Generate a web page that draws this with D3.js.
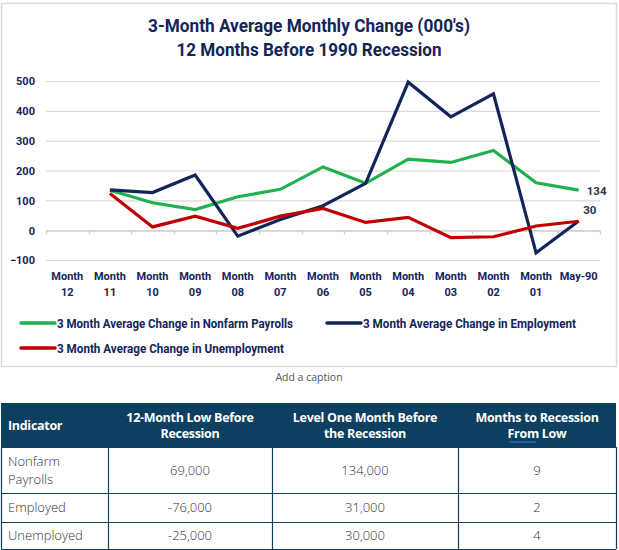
<!DOCTYPE html>
<html><head><meta charset="utf-8">
<script src="https://cdn.jsdelivr.net/npm/d3@7"></script>
<style>
html,body{margin:0;padding:0;background:#fff;}
svg{display:block;}
</style></head>
<body>
<svg id="c" width="619" height="550"></svg>
<script>
// ---- data ----
const categories = ["Month 12","Month 11","Month 10","Month 09","Month 08","Month 07","Month 06","Month 05","Month 04","Month 03","Month 02","Month 01","May-90"];
const nonfarm      = [null,134, 92, 69,112,137,212,157,238,227,267,159,134];
const employment   = [null,135,126,185,-20, 36, 82,157,496,380,457,-76, 31];
const unemployment = [null,123, 11, 47,  6, 47, 73, 26, 43,-25,-22, 14, 30];
const yTicks = [-100,0,100,200,300,400,500];
const seriesNames = ["3 Month Average Change in Nonfarm Payrolls","3 Month Average Change in Employment","3 Month Average Change in Unemployment"];
const titleLines = ["3-Month Average Monthly Change (000's)","12 Months Before 1990 Recession"];
const tableHeader = [["Indicator"],["12-Month Low Before","Recession"],["Level One Month Before","the Recession"],["Months to Recession","From Low"]];
const tableRows = [
  [["Nonfarm","Payrolls"],"69,000","134,000","9"],
  [["Employed"],"-76,000","31,000","2"],
  [["Unemployed"],"-25,000","30,000","4"]
];
const caption = "Add a caption";

// ---- styles ----
const NAVY = "#13245a", GREEN = "#1fb14e", RED = "#c00000";
const condFont = "Roboto, 'Liberation Sans', sans-serif";
const axisFont = "Roboto, 'Liberation Sans', sans-serif";

const svg = d3.select("#c");
// squeeze a text to a narrow-font width
function fit(sel, w){
  sel.each(function(){
    const n = this.getComputedTextLength();
    if(n > w) d3.select(this).attr("textLength", w).attr("lengthAdjust","spacingAndGlyphs");
  });
}

// chart frame
svg.append("rect").attr("x",1.5).attr("y",3.5).attr("width",615).attr("height",363)
  .attr("fill","#fff").attr("stroke","#d9d9d9").attr("stroke-width",1.5);

// title
const titleW = [322, 265];
svg.append("g").selectAll("text").data(titleLines).join("text")
  .attr("x",309).attr("y",(d,i)=>32+i*24).attr("text-anchor","middle")
  .attr("font-family",condFont).attr("font-weight","bold").attr("font-size",17.5)
  .attr("fill",NAVY).text(d=>d)
  .each(function(d,i){ fit(d3.select(this), titleW[i]); });

// scales
const x = d3.scaleBand().domain(categories).range([46,600]);
const y = d3.scaleLinear().domain([-100,500]).range([260,81]);

// grid
svg.append("g").selectAll("line").data(yTicks).join("line")
  .attr("x1",46).attr("x2",600).attr("y1",d=>y(d)+0.5).attr("y2",d=>y(d)+0.5)
  .attr("stroke","#d9d9d9").attr("stroke-width",1.2);

// x axis at zero with tick marks between categories
const xAxis = d3.axisBottom(x).tickSize(0).tickFormat("");
const gx = svg.append("g").attr("transform",`translate(0,${y(0)+0.5})`).call(xAxis);
gx.select(".domain").attr("stroke","#d0d0d0").attr("stroke-width",1.2);
gx.selectAll(".tick").remove();
svg.append("g").selectAll("line").data(categories.concat([null])).join("line")
  .attr("x1",(d,i)=>Math.round(46+i*x.step())+0.5).attr("x2",(d,i)=>Math.round(46+i*x.step())+0.5)
  .attr("y1",y(0)).attr("y2",y(0)+4).attr("stroke","#d0d0d0").attr("stroke-width",1.2);

// y labels
const yAxis = d3.axisLeft(y).tickValues(yTicks).tickSize(0).tickPadding(0);
const gy = svg.append("g").attr("transform","translate(35,0)").call(yAxis);
gy.select(".domain").remove();
gy.selectAll("text").attr("font-family",axisFont).attr("font-weight","bold")
  .attr("font-size",11).attr("fill",NAVY).attr("dy","0.35em");

// x labels
const xl = svg.append("g").selectAll("text").data(categories).join("text")
  .attr("text-anchor","middle").attr("font-family",axisFont).attr("font-weight","bold")
  .attr("font-size",11).attr("fill",NAVY);
xl.each(function(d){
  const parts = d.startsWith("Month") ? ["Month", d.slice(6)] : [d];
  const cx = x(d)+x.bandwidth()/2;
  d3.select(this).selectAll("tspan").data(parts).join("tspan")
    .attr("x",cx).attr("y",(p,i)=>280+i*15.5).text(p=>p);
});

// lines
const line = d3.line().defined(d=>d.v!==null).x(d=>x(d.c)+x.bandwidth()/2).y(d=>y(d.v));
const drawOrder = [
  {vals:nonfarm, color:GREEN},
  {vals:employment, color:NAVY},
  {vals:unemployment, color:RED}
];
svg.append("g").selectAll("path").data(drawOrder).join("path")
  .attr("d",s=>line(s.vals.map((v,i)=>({c:categories[i],v}))))
  .attr("fill","none").attr("stroke",s=>s.color).attr("stroke-width",3.2)
  .attr("stroke-linejoin","miter").attr("stroke-linecap","butt");

// end labels
const lastC = categories[categories.length-1];
svg.append("text").attr("x",x(lastC)+x.bandwidth()/2+8).attr("y",y(nonfarm[12])+4.5)
  .attr("font-family",axisFont).attr("font-weight","bold").attr("font-size",11.5).attr("fill","#2b3550")
  .text(nonfarm[12]);
svg.append("text").attr("x",x(lastC)+x.bandwidth()/2+4.5).attr("y",y(unemployment[12])-7)
  .attr("font-family",axisFont).attr("font-weight","bold").attr("font-size",11.5).attr("fill","#2b3550")
  .text(unemployment[12]);

// legend
const leg = [
  {name:seriesNames[0], color:GREEN, x:21, y:323, w:236},
  {name:seriesNames[1], color:NAVY, x:327, y:323, w:213},
  {name:seriesNames[2], color:RED, x:21, y:348, w:227}
];
const lg = svg.append("g").selectAll("g").data(leg).join("g")
  .attr("transform",d=>`translate(${d.x},${d.y})`);
lg.append("line").attr("x1",0).attr("x2",34).attr("y1",0).attr("y2",0)
  .attr("stroke",d=>d.color).attr("stroke-width",3.5).attr("stroke-linecap","round");
lg.append("text").attr("x",36).attr("y",4.5).attr("font-family",condFont)
  .attr("font-weight","bold").attr("font-size",12.5).attr("fill",NAVY).text(d=>d.name)
  .each(function(d){ fit(d3.select(this), d.w); });

// caption
svg.append("text").attr("x",309).attr("y",381).attr("text-anchor","middle")
  .attr("font-family","'Open Sans',sans-serif").attr("font-size",10.5).attr("fill","#555").text(caption);

// ---- table ----
const colX = [1,108,272,458,616];
const rowY = [403,447,493,522,549];
const HEAD = "#0c3f60", BORDER = "#0c3f60";
const tableFont = "'Open Sans','Noto Sans',sans-serif";
svg.append("rect").attr("x",colX[0]).attr("y",rowY[0]).attr("width",colX[4]-colX[0]).attr("height",rowY[1]-rowY[0]).attr("fill",HEAD);

tableHeader.forEach((lines,ci)=>{
  const left = ci===0;
  const cx = left ? colX[0]+7 : (colX[ci]+colX[ci+1])/2;
  const cy = (rowY[0]+rowY[1])/2;
  const t = svg.append("text").attr("text-anchor",left?"start":"middle")
    .attr("font-family",tableFont).attr("font-weight","bold").attr("font-size",12.5)
    .attr("fill","#fff").attr("letter-spacing","-0.3");
  lines.forEach((l,li)=>{
    t.append("tspan").attr("x",cx).attr("y",cy+4.5+(li-(lines.length-1)/2)*16).text(l);
  });
});
// spell underline under "From"
svg.append("line").attr("x1",509).attr("x2",536).attr("y1",442).attr("y2",442)
  .attr("stroke","#3a6fd8").attr("stroke-width",1.2);

tableRows.forEach((row,ri)=>{
  const cy = (rowY[ri+1]+rowY[ri+2])/2;
  row.forEach((cell,ci)=>{
    const lines = Array.isArray(cell)?cell:[cell];
    const left = ci===0;
    const cx = left ? colX[0]+7 : (colX[ci]+colX[ci+1])/2;
    const t = svg.append("text").attr("text-anchor",left?"start":"middle")
      .attr("font-family",tableFont).attr("font-weight",300).attr("font-size",13)
      .attr("fill","#333");
    lines.forEach((l,li)=>{
      t.append("tspan").attr("x",cx).attr("y",cy+4.5+(li-(lines.length-1)/2)*18).text(l);
    });
  });
});
const bg = svg.append("g").attr("stroke",BORDER).attr("stroke-width",1.2);
rowY.slice(1).forEach(yy=>bg.append("line").attr("x1",colX[0]).attr("x2",colX[4]).attr("y1",yy+0.5).attr("y2",yy+0.5));
colX.forEach(xx=>bg.append("line").attr("x1",xx+0.5).attr("x2",xx+0.5).attr("y1",rowY[1]).attr("y2",rowY[4]));
</script>
</body></html>
